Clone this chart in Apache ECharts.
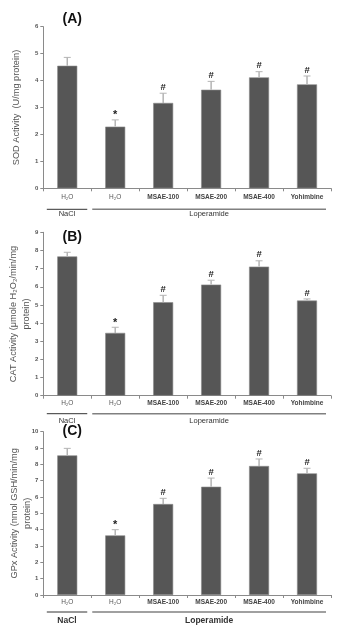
<!DOCTYPE html>
<html><head><meta charset="utf-8">
<script src="https://cdn.jsdelivr.net/npm/echarts@6/dist/echarts.min.js"></script>
<style>html,body{margin:0;padding:0;background:#fff}#c{width:339px;height:634px}</style>
</head><body><div id="c"></div>
<script>
const categories = ['H₂O', 'H₂O', 'MSAE-100', 'MSAE-200', 'MSAE-400', 'Yohimbine'];
const groupNames = ['NaCl', 'Loperamide'];
const groupSpans = [[0, 0], [1, 5]];
const panelTitles = ['(A)', '(B)', '(C)'];
const yNames = ['SOD Activity  (U/mg protein)', 'CAT Activity (μmole H₂O₂/min/mg\nprotein)', 'GPx Activity (nmol GSH/min/mg\nprotein)'];
const yMax = [6, 9, 10];
const sodMean = [4.55, 2.29, 3.17, 3.66, 4.12, 3.86];
const sodErr = [0.31, 0.25, 0.36, 0.31, 0.21, 0.31];
const catMean = [7.67, 3.46, 5.15, 6.12, 7.11, 5.24];
const catErr = [0.23, 0.31, 0.38, 0.24, 0.32, 0.09];
const gpxMean = [8.55, 3.65, 5.57, 6.63, 7.90, 7.45];
const gpxErr = [0.43, 0.35, 0.35, 0.53, 0.43, 0.31];
const marks = ['', '*', '#', '#', '#', '#'];

const means = [sodMean, catMean, gpxMean];
const errs = [sodErr, catErr, gpxErr];

const gridTops = [26.7, 232.3, 431.7];
const gridHeights = [161.6, 163.4, 163.3];
const nameGaps = [21, 11, 10];
const lineOffsets = [21, 18, 17];
const labelOffsets = [26, 25, 26];
const titleY = [19, 237.5, 431];

const chart = echarts.init(document.getElementById('c'), null, {renderer: 'canvas'});
const grids = [], xAxes = [], yAxes = [], series = [];
for (let i = 0; i < 3; i++) {
  grids.push({left: 43.3, width: 287.7, top: gridTops[i], height: gridHeights[i], containLabel: false, outerBoundsMode: 'none'});
  xAxes.push({
    type: 'category', gridIndex: i, data: categories,
    axisLine: {lineStyle: {color: '#8a8a8a', width: 1}},
    axisTick: {show: true, length: 3, lineStyle: {color: '#8a8a8a'}},
    axisLabel: {
      margin: i === 0 ? 5 : 4, interval: 0,
      formatter: v => v === 'H₂O' ? '{h|' + v + '}' : '{b|' + v + '}',
      rich: {
        h: {fontSize: 6.5, color: '#555', fontFamily: 'Liberation Sans, Arial'},
        b: {fontSize: 6.5, color: '#444', fontWeight: 'bold', fontFamily: 'Liberation Sans, Arial'}
      }
    }
  });
  yAxes.push({
    type: 'value', gridIndex: i, min: 0, max: yMax[i], interval: 1,
    name: yNames[i], nameLocation: 'middle', nameRotate: 90, nameGap: nameGaps[i], nameMoveOverlap: false,
    nameTextStyle: {fontSize: 9.2, color: '#555', lineHeight: 12.5, fontFamily: 'Liberation Sans, Arial'},
    axisLine: {show: true, lineStyle: {color: '#8a8a8a', width: 1}},
    axisTick: {show: true, length: 3, lineStyle: {color: '#8a8a8a'}},
    splitLine: {show: false},
    axisLabel: {fontSize: 6, color: '#555', margin: 5, fontWeight: 'bold', fontFamily: 'Liberation Sans, Arial'}
  });
  series.push({
    type: 'bar', xAxisIndex: i, yAxisIndex: i, data: means[i], barWidth: 20,
    itemStyle: {color: '#565656', borderColor: '#8c8c8c', borderWidth: 0.6}, silent: true
  });
  const m = means[i], e = errs[i];
  series.push({
    type: 'custom', xAxisIndex: i, yAxisIndex: i, silent: true, z: 5,
    data: m.map((v, k) => [k, v, e[k]]),
    renderItem: (params, api) => {
      const x = api.value(0), mv = api.value(1), ev = api.value(2);
      const p0 = api.coord([x, mv]), p1 = api.coord([x, mv + ev]);
      const mk = marks[params.dataIndex];
      const children = [
        {type: 'line', shape: {x1: p0[0], y1: p0[1], x2: p1[0], y2: p1[1]}, style: {stroke: '#b4b4b4', lineWidth: 1.5}},
        {type: 'line', shape: {x1: p1[0] - 3.5, y1: p1[1], x2: p1[0] + 3.5, y2: p1[1]}, style: {stroke: '#b4b4b4', lineWidth: 1}}
      ];
      if (mk) children.push({type: 'text', style: {text: mk, x: p1[0], y: p1[1] - (mk === '*' ? 4.5 : 6), textAlign: 'center', textVerticalAlign: 'middle', fontSize: mk === '*' ? 11 : 9.5, fontWeight: 'bold', fill: '#222', fontFamily: 'Liberation Sans, Arial'}});
      return {type: 'group', children};
    }
  });
}
chart.setOption({animation: false, grid: grids, xAxis: xAxes, yAxis: yAxes, series});

const g = [];
for (let i = 0; i < 3; i++) {
  const c0 = chart.convertToPixel({xAxisIndex: i}, 0);
  const c1 = chart.convertToPixel({xAxisIndex: i}, 1);
  const band = c1 - c0;
  const y0 = chart.convertToPixel({yAxisIndex: i}, 0);
  g.push({type: 'text', x: c0 + 5, y: titleY[i], style: {text: panelTitles[i], fontSize: 14, fontWeight: 'bold', fill: '#111', textAlign: 'center', textVerticalAlign: 'middle', fontFamily: 'Liberation Sans, Arial'}});
  groupSpans.forEach((sp, k) => {
    const a = chart.convertToPixel({xAxisIndex: i}, sp[0]) - band / 2;
    const b = chart.convertToPixel({xAxisIndex: i}, sp[1]) + band / 2;
    const x1 = k === 0 ? a + 3.5 : a + 1;
    const x2 = k === 0 ? b - 4 : b - 5;
    g.push({type: 'line', shape: {x1, y1: y0 + lineOffsets[i], x2, y2: y0 + lineOffsets[i]}, style: {stroke: k === 0 ? '#333' : '#808080', lineWidth: k === 0 ? 1 : 1.5}});
    g.push({type: 'text', x: (x1 + x2) / 2, y: y0 + labelOffsets[i], style: {text: groupNames[k], fontSize: i === 2 ? 8.5 : 7.5, fontWeight: i === 2 ? 'bold' : 'normal', fill: '#333', textAlign: 'center', textVerticalAlign: 'middle', fontFamily: 'Liberation Sans, Arial'}});
  });
}
chart.setOption({graphic: g});
</script></body></html>
